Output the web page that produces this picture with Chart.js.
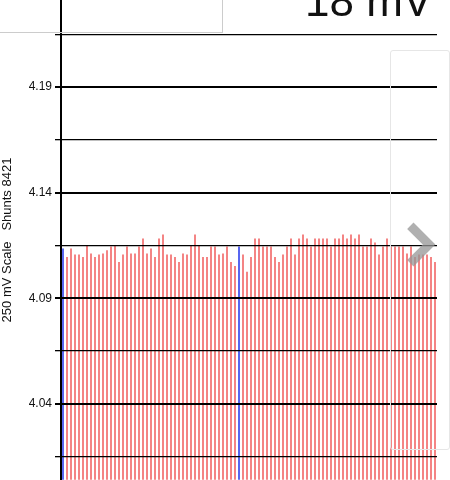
<!DOCTYPE html><html><head><meta charset="utf-8">
<script src="https://cdn.jsdelivr.net/npm/chart.js@4"></script>
<style>html,body{margin:0;padding:0;background:#fff;overflow:hidden}
#wrap{position:relative;width:450px;height:480px;overflow:hidden}
#box{position:absolute;left:-1px;top:-2px;width:222px;height:34px;border:1px solid #ccc;border-top:none}
#mv{position:absolute;left:305px;top:-24px;font:44px "Liberation Sans",Arial,sans-serif;color:#111}
#panel{position:absolute;left:390px;top:50px;width:58px;height:398px;border:1px solid #e6e6e6;border-radius:3px}
#chev{position:absolute;left:398px;top:229px;width:22px;height:22px;border-right:9px solid rgba(150,150,150,0.75);border-top:9px solid rgba(150,150,150,0.75);transform:rotate(45deg)}
canvas{position:absolute;left:0;top:-10px}</style></head><body>
<div id="wrap"><canvas id="c" width="450" height="500"></canvas><div id="box"></div><div id="mv">18 mV</div><div id="panel"></div><div id="chev"></div></div>
<script>
const values=[4.1136,4.1096,4.1136,4.1107,4.1107,4.1096,4.1150,4.1112,4.1096,4.1107,4.1112,4.1128,4.1145,4.1150,4.1072,4.1107,4.1145,4.1112,4.1112,4.1145,4.1183,4.1112,4.1136,4.1096,4.1183,4.1202,4.1107,4.1107,4.1096,4.1072,4.1112,4.1107,4.1150,4.1202,4.1150,4.1096,4.1096,4.1145,4.1145,4.1107,4.1112,4.1145,4.1072,4.1053,
4.1145,4.1107,4.1025,
4.1096,4.1183,4.1183,4.1145,4.1145,4.1145,4.1096,4.1072,4.1107,4.1145,4.1183,4.1107,4.1183,4.1202,4.1183,4.1145,4.1183,4.1183,4.1183,4.1183,4.1145,4.1183,4.1183,4.1202,4.1183,4.1202,4.1183,4.1202,4.1145,4.1145,4.1183,4.1164,4.1107,4.1145,4.1183,4.1145,4.1145,4.1145,4.1145,4.1112,4.1145,4.1096,4.1107,4.1107,4.1107,4.1096,4.1072];
const labels=values.map((v,i)=>String(i+1));
const blueIdx=[0,44];
const tickLabels=['4.04','4.09','4.14','4.19'];
const axisTitle='250 mV Scale   Shunts 8421';
const colors=values.map((v,i)=>blueIdx.includes(i)?'#5866f0':'rgba(242,110,110,0.85)');
const isLab=v=>{const s=v.toFixed(3);return s.endsWith('0')&&tickLabels.includes(v.toFixed(2));};
new Chart(document.getElementById('c'),{type:'bar',
data:{labels,datasets:[{data:values,backgroundColor:colors,barPercentage:0.5,categoryPercentage:1}]},
options:{responsive:false,animation:false,layout:{padding:{left:0,right:13,top:0,bottom:0}},
plugins:{legend:{display:false},tooltip:{enabled:false}},
scales:{x:{display:false,offset:true},
y:{min:4.004,max:4.2312,
afterBuildTicks:a=>{a.ticks=[];for(let k=0;k<9;k++)a.ticks.push({value:+(4.015+k*0.025).toFixed(3)});},
border:{color:'#000',width:2,z:1},
grid:{color:'#000',lineWidth:c=>c.tick&&isLab(c.tick.value)?2:1.3,tickLength:6,z:1},
ticks:{color:'#111',font:{size:12,family:'Liberation Sans'},callback:v=>isLab(v)?v.toFixed(2):''},
title:{display:true,text:axisTitle,color:'#111',font:{size:13,family:'Liberation Sans'},padding:{top:0,bottom:6}},
afterFit:a=>{a.width=61;}}}}});
</script></body></html>
